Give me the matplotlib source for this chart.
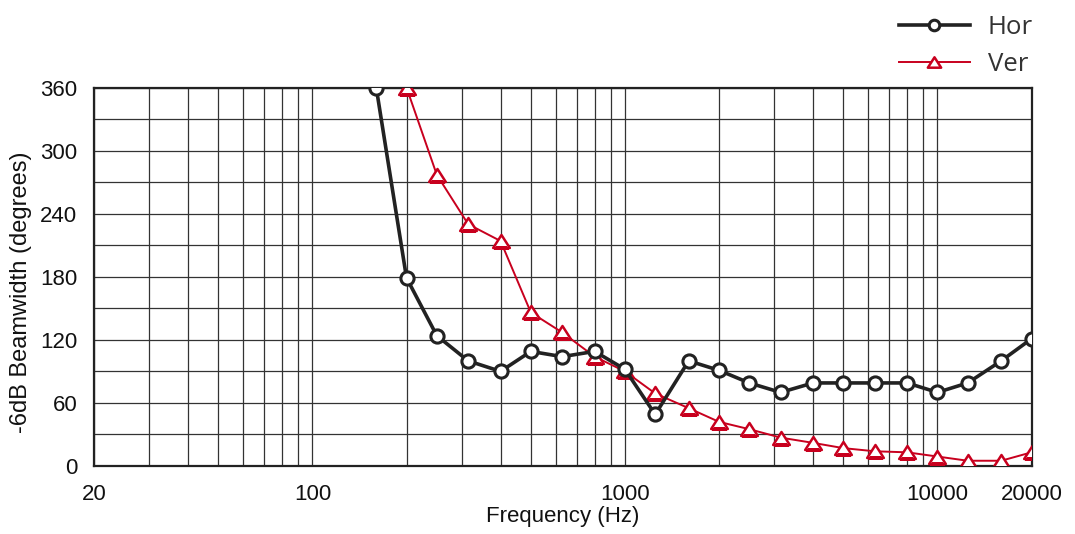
import matplotlib
matplotlib.use("Agg")
import matplotlib.pyplot as plt
from matplotlib.path import Path
import numpy as np

# ---- data ----
hor_freq = [160, 200, 250, 315, 400, 500, 630, 800, 1000, 1250, 1600, 2000,
            2500, 3150, 4000, 5000, 6300, 8000, 10000, 12500, 16000, 20000]
hor_vals = [360, 179, 124, 100, 90, 109, 104, 109, 92, 49, 100, 91,
            79, 70, 79, 79, 79, 79, 70, 79, 100, 121]

ver_freq = [200, 250, 315, 400, 500, 630, 800, 1000, 1250, 1600, 2000,
            2500, 3150, 4000, 5000, 6300, 8000, 10000, 12500, 16000, 20000]
ver_vals = [360, 277, 230, 214, 146, 127, 104, 90, 69, 55, 42,
            35, 27, 22, 17, 14, 13, 9, 5, 5, 13]

x_tick_vals = [20, 100, 1000, 10000, 20000]
x_tick_labels = ["20", "100", "1000", "10000", "20000"]
y_tick_vals = [0, 60, 120, 180, 240, 300, 360]
series_names = ["Hor", "Ver"]

# ---- styling ----
plt.rcParams['font.family'] = ['Liberation Sans', 'DejaVu Sans']
HOR_COLOR = "#222222"
VER_COLOR = "#c8001e"
GRID_COLOR = "#333333"
TEXT_COLOR = "#111111"

fig = plt.figure(figsize=(10.75, 5.34), dpi=100)
ax = fig.add_axes([94 / 1075, 68 / 534, 937.5 / 1075, 378.5 / 534])

tri = Path([(0, 0.78), (-1, -0.78), (1, -0.78), (0, 0.78)],
           [Path.MOVETO, Path.LINETO, Path.LINETO, Path.CLOSEPOLY])

l1, = ax.plot(hor_freq, hor_vals, color=HOR_COLOR, lw=2.6, marker='o', ms=9.5,
              mfc='white', mec=HOR_COLOR, mew=2.2, label=series_names[0], zorder=4)
l2, = ax.plot(ver_freq, ver_vals, color=VER_COLOR, lw=1.4, marker=tri, ms=12,
              mfc='white', mec=VER_COLOR, mew=1.8, label=series_names[1], zorder=3)
# true path clipping so that markers on the frame are cut like in the reference
for ln in (l1, l2):
    ln.set_clip_path(Path.unit_rectangle(), ax.transAxes)

ax.set_xscale('log')
ax.set_xlim(20, 20000)
ax.set_ylim(0, 360)

ax.set_xticks(x_tick_vals)
ax.set_xticklabels(x_tick_labels)
minor = [m * d for d in (10, 100, 1000) for m in range(2, 10)]
minor = [v for v in minor if 20 < v < 20000 and v not in x_tick_vals]
ax.set_xticks(minor, minor=True)
ax.set_xticklabels([], minor=True)
ax.set_yticks(y_tick_vals)
ax.set_yticks(np.arange(30, 360, 60), minor=True)

ax.tick_params(axis='both', which='both', length=0)
ax.tick_params(axis='x', which='major', pad=13, labelsize=16, colors=TEXT_COLOR)
ax.tick_params(axis='y', which='major', pad=12, labelsize=16, colors=TEXT_COLOR)
ax.grid(True, which='both', color=GRID_COLOR, lw=0.9)
ax.set_axisbelow(True)
for s in ax.spines.values():
    s.set_color('#222222')
    s.set_linewidth(1.6)

ax.set_xlabel("Frequency (Hz)", fontsize=16, labelpad=1, color=TEXT_COLOR)
ax.set_ylabel("-6dB Beamwidth (degrees)", fontsize=17, color=TEXT_COLOR)
ax.yaxis.set_label_coords(-0.066, 0.46)

leg = fig.legend(loc='upper left', bbox_to_anchor=(899 / 1075, 1 - 15 / 534),
                 frameon=False, prop={'family': 'Open Sans', 'size': 18.5},
                 handlelength=2.75, handletextpad=0.7, labelspacing=0.45,
                 borderpad=0, borderaxespad=0, markerscale=0.8)
for t in leg.get_texts():
    t.set_color('#333333')

fig.savefig("out.png", dpi=100)
